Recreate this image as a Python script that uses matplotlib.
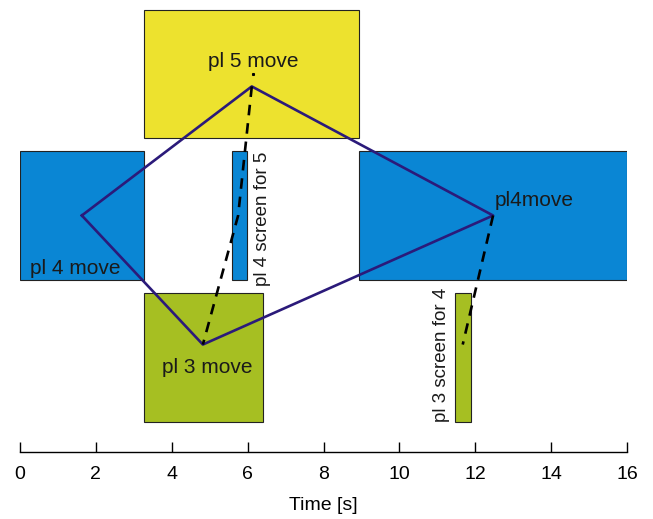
import matplotlib
matplotlib.use("Agg")
import matplotlib.pyplot as plt
from matplotlib.patches import Rectangle

plt.rcParams['font.family'] = ['Liberation Sans', 'DejaVu Sans']

# rectangles: (x0, x1, y0, y1, color)
rect_x0 = [3.27, 0.0, 5.59, 8.94, 3.27, 11.47]
rect_x1 = [8.94, 3.27, 5.98, 16.0, 6.40, 11.89]
rect_y0 = [2.2, 1.1, 1.1, 1.1, 0.0, 0.0]
rect_y1 = [3.19, 2.1, 2.1, 2.1, 1.0, 1.0]
rect_colors = ['#EDE22E', '#0A86D4', '#0A86D4', '#0A86D4', '#A6BF22', '#A6BF22']

# polygon (closed)
poly_x = [1.63, 6.11, 12.47, 4.82, 1.63]
poly_y = [1.60, 2.60, 1.60, 0.60, 1.60]

# dashed links
dash1_x = [6.11, 5.75, 4.82]
dash1_y = [2.60, 1.60, 0.60]
dash2_x = [12.47, 11.67]
dash2_y = [1.60, 0.60]
dot_x = [6.14]
dot_y = [2.70]

labels = ['pl 5 move', 'pl 4 move', 'pl 4 screen for 5', 'pl4move', 'pl 3 move', 'pl 3 screen for 4']
label_x = [6.14, 1.45, 6.40, 12.52, 4.93, 11.10]
label_y = [2.79, 1.19, 1.05, 1.72, 0.42, 0.00]
label_rot = [0, 0, 90, 0, 0, 90]
label_size = [15, 15, 13.5, 15, 15, 13.5]
label_ha = ['center', 'center', 'center', 'left', 'center', 'center']
label_va = ['center', 'center', 'bottom', 'center', 'center', 'bottom']

xticks = [0, 2, 4, 6, 8, 10, 12, 14, 16]

fig = plt.figure(figsize=(6.53, 5.19), dpi=100)
ax = fig.add_axes([20/653, 67/519, 607/653, 443/519])

for x0, x1, y0, y1, c in zip(rect_x0, rect_x1, rect_y0, rect_y1, rect_colors):
    ax.add_patch(Rectangle((x0, y0), x1 - x0, y1 - y0, facecolor=c,
                           edgecolor='#222222', linewidth=0.8, zorder=1))

ax.plot(poly_x, poly_y, color='#2B1A7A', linewidth=1.9, zorder=3)
ax.plot(dash1_x, dash1_y, color='black', linestyle=(0, (4, 3)), linewidth=1.9, zorder=4)
ax.plot(dash2_x, dash2_y, color='black', linestyle=(0, (4, 3)), linewidth=1.9, zorder=4)
ax.plot(dot_x, dot_y, marker='s', markersize=1.2, color='black', linestyle='none', zorder=4)

for t, x, y, r, fs, ha, va in zip(labels, label_x, label_y, label_rot, label_size, label_ha, label_va):
    ax.text(x, y, t, rotation=r, ha=ha, va=va, fontsize=fs, color='#1a1a1a', zorder=5)

ax.set_xlim(0, 16)
ax.set_ylim(-0.2326, 3.2)
ax.set_xticks(xticks)
ax.set_xticklabels([str(v) for v in xticks], fontsize=14)
ax.set_yticks([])
for s in ['top', 'right', 'left']:
    ax.spines[s].set_visible(False)
ax.spines['bottom'].set_linewidth(1.0)
ax.tick_params(axis='x', direction='in', length=7, width=1.0, pad=10)
ax.set_xlabel('Time [s]', fontsize=14, labelpad=10)
ax.patch.set_visible(False)

fig.savefig('out.png', dpi=100)
